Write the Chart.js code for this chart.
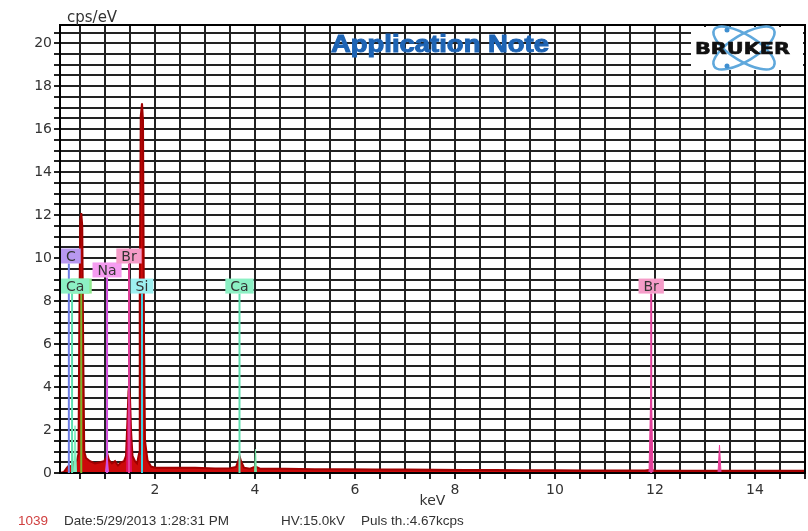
<!DOCTYPE html>
<html>
<head>
<meta charset="utf-8">
<script src="https://cdn.jsdelivr.net/npm/chart.js@4.4.0/dist/chart.umd.min.js"></script>
<style>
  html, body { margin: 0; padding: 0; background: #fff; }
  #wrap { width: 808px; height: 531px; position: relative; }
</style>
</head>
<body>
<div id="wrap"><canvas id="spectrum" width="808" height="531"></canvas></div>
<script>
// 能谱 (keV -> cps/eV)
const spectrumKeV = [0.10, 0.18, 0.24, 0.28, 0.33, 0.38, 0.44, 0.47, 0.485, 0.505, 0.525, 0.545, 0.565, 0.585, 0.62,
  0.70, 0.80, 0.90, 0.98, 1.02, 1.05, 1.08, 1.14, 1.20, 1.26, 1.32, 1.38, 1.42, 1.45, 1.47, 1.48, 1.50, 1.52, 1.55,
  1.60, 1.64, 1.68, 1.695, 1.715, 1.74, 1.76, 1.78, 1.80, 1.85, 1.92, 2.00, 2.40, 2.80, 3.20, 3.50, 3.62, 3.67,
  3.69, 3.72, 3.78, 3.90, 4.01, 4.10, 4.60, 5.20, 5.80, 6.40, 7.00, 7.60, 8.20, 8.80, 9.40, 10.0, 10.6, 11.2, 11.8,
  11.92, 12.0, 12.6, 13.2, 13.8, 14.4, 15.0];
const spectrumCps = [0.00, 0.05, 0.25, 0.35, 0.30, 0.45, 0.60, 0.9, 6.5, 11.7, 12.1, 11.5, 5.5, 1.0, 0.7,
  0.55, 0.45, 0.5, 0.55, 0.7, 0.85, 0.6, 0.45, 0.55, 0.35, 0.5, 0.55, 0.8, 2.5, 3.8, 4.0, 3.5, 2.0, 0.8,
  0.55, 0.45, 0.9, 8.0, 16.6, 17.2, 16.4, 6.5, 1.5, 0.6, 0.3, 0.25, 0.24, 0.25, 0.21, 0.22, 0.28, 0.6,
  0.8, 0.55, 0.25, 0.2, 0.3, 0.2, 0.2, 0.18, 0.17, 0.16, 0.16, 0.15, 0.14, 0.14, 0.13, 0.13, 0.12, 0.12, 0.12,
  0.15, 0.11, 0.11, 0.10, 0.10, 0.10, 0.10];

// 元素叠加峰
const caLKeV = [0.37, 0.40, 0.43];     const caLCps = [0, 2.2, 0];
const naKKeV = [1.01, 1.04, 1.07];     const naKCps = [0, 0.8, 0];
const brLKeV = [1.43, 1.46, 1.48, 1.50, 1.53]; const brLCps = [0, 2.8, 4.0, 3.2, 0];
const caKbKeV = [3.99, 4.01, 4.03];    const caKbCps = [0, 1.1, 0];
const brKaKeV = [11.88, 11.92, 11.96]; const brKaCps = [0, 4.3, 0];
const brKbKeV = [13.26, 13.29, 13.32]; const brKbCps = [0, 1.3, 0];

// 元素标记线
const markerNames = ['C', 'O', 'Ca', 'Na', 'Br', 'Si', 'Ca', 'Br'];
const markerKeV = [0.277, 0.525, 0.341, 1.041, 1.480, 1.740, 3.690, 11.924];
const markerLabelCps = [10.1, 8.7, 8.7, 9.45, 10.1, 8.7, 8.7, 8.7];

// 坐标轴
const xRange = [0.1, 15];
const yRange = [0, 20.85];
const gridStep = 0.5;
const labelStep = 2;

// 文字
const chartTitle = 'Application Note';
const yUnit = 'cps/eV';
const xUnit = 'keV';
const footerTexts = ['1039', 'Date:5/29/2013 1:28:31 PM', 'HV:15.0kV', 'Puls th.:4.67kcps'];

// 元素颜色
const elementColors = {
    C:  { line: '#6f7fe6', box: '#b898f0' },
    O:  { line: '#7cb82f', box: '#8ee88e' },
    Ca: { line: '#5fe0b0', box: '#8cf0c4' },
    Na: { line: '#d050e0', box: '#f59cf0' },
    Br: { line: '#e0409a', box: '#f59cc8' },
    Si: { line: '#40d0e0', box: '#9ef0f0' }
};

function toPoints(xs, ys) {
    return xs.map((x, i) => ({ x: x, y: ys[i] }));
}

function overlay(xs, ys, color) {
    return {
        data: toPoints(xs, ys),
        backgroundColor: color,
        borderColor: color,
        borderWidth: 1,
        fill: 'origin',
        pointRadius: 0,
        order: 1
    };
}

// 按目标宽度绘制文字
function fitText(ctx, text, x, y, width) {
    const w = ctx.measureText(text).width;
    ctx.save();
    ctx.translate(x, y);
    ctx.scale(width / w, 1);
    ctx.fillText(text, 0, 0);
    ctx.strokeText(text, 0, 0);
    ctx.restore();
}

// 装饰: 标题, 标志, 元素标签, 页脚
const decorPlugin = {
    id: 'decor',
    afterDatasetsDraw(chart) {
        const { ctx, chartArea, scales } = chart;
        const xs = scales.x, ys = scales.y;
        ctx.save();

        // 外框
        ctx.strokeStyle = '#000';
        ctx.lineWidth = 2;
        ctx.strokeRect(chartArea.left, chartArea.top, chartArea.right - chartArea.left, chartArea.bottom - chartArea.top);

        // 元素标记
        ctx.font = '14px "DejaVu Sans"';
        ctx.textAlign = 'center';
        ctx.textBaseline = 'middle';
        markerNames.forEach((name, i) => {
            const c = elementColors[name];
            const px = xs.getPixelForValue(markerKeV[i]);
            const py = ys.getPixelForValue(markerLabelCps[i]);
            const w = ctx.measureText(name).width + 10;
            const h = 15;
            const left = Math.max(chartArea.left + 1, px - w / 2);
            ctx.strokeStyle = c.line;
            ctx.lineWidth = 2;
            ctx.beginPath();
            ctx.moveTo(px, ys.getPixelForValue(0));
            ctx.lineTo(px, py + h / 2);
            ctx.stroke();
            ctx.fillStyle = c.box;
            ctx.fillRect(left, py - h / 2, w, h);
            ctx.fillStyle = '#333';
            ctx.fillText(name, left + w / 2, py + 1);
        });

        // 标题
        ctx.textAlign = 'left';
        ctx.textBaseline = 'alphabetic';
        ctx.font = 'bold 23px "Liberation Sans"';
        ctx.fillStyle = '#1e64b4';
        ctx.strokeStyle = '#1e64b4';
        ctx.lineWidth = 1;
        fitText(ctx, chartTitle, 331, 52, 218);

        // BRUKER 标志
        ctx.fillStyle = '#fff';
        ctx.fillRect(691, 27, 112, 43);
        ctx.strokeStyle = '#5fa8dc';
        ctx.lineWidth = 2.5;
        ctx.beginPath();
        ctx.ellipse(744, 48, 35, 13, 0.55, 0, Math.PI * 2);
        ctx.stroke();
        ctx.beginPath();
        ctx.ellipse(744, 48, 35, 13, -0.55, 0, Math.PI * 2);
        ctx.stroke();
        ctx.fillStyle = '#3f8fd0';
        [[727, 30], [727, 66]].forEach(p => {
            ctx.beginPath();
            ctx.arc(p[0], p[1], 2.5, 0, Math.PI * 2);
            ctx.fill();
        });
        ctx.font = 'bold 15px "DejaVu Sans"';
        ctx.fillStyle = '#111';
        ctx.strokeStyle = '#111';
        ctx.lineWidth = 0.6;
        fitText(ctx, 'BRUKER', 695, 54, 95);

        // 单位
        ctx.fillStyle = '#333';
        ctx.font = '15px "DejaVu Sans"';
        ctx.fillText(yUnit, 67, 22);

        // 页脚
        ctx.font = '13.5px "Liberation Sans"';
        ctx.fillStyle = '#d04040';
        ctx.fillText(footerTexts[0], 18, 525);
        ctx.fillStyle = '#333';
        ctx.fillText(footerTexts[1], 64, 525);
        ctx.fillText(footerTexts[2], 281, 525);
        ctx.fillText(footerTexts[3], 361, 525);
        ctx.restore();
    }
};

Chart.defaults.font.family = '"DejaVu Sans"';
Chart.defaults.color = '#333';

window.onload = function() {
    new Chart(document.getElementById('spectrum'), {
        type: 'line',
        data: {
            datasets: [{
                data: toPoints(spectrumKeV, spectrumCps),
                backgroundColor: '#cc0a0a',
                borderColor: '#a00000',
                borderWidth: 2,
                fill: 'origin',
                pointRadius: 0,
                order: 2
            },
            overlay(caLKeV, caLCps, '#7ff0c0'),
            overlay(naKKeV, naKCps, '#e060e0'),
            overlay(brLKeV, brLCps, '#e01060'),
            overlay(caKbKeV, caKbCps, '#70e0a0'),
            overlay(brKaKeV, brKaCps, '#e8409a'),
            overlay(brKbKeV, brKbCps, '#e8409a')]
        },
        options: {
            responsive: false,
            animation: false,
            layout: { padding: { top: 25, right: 1, left: 0, bottom: 0 } },
            plugins: {
                legend: { display: false },
                tooltip: { enabled: false }
            },
            scales: {
                x: {
                    type: 'linear',
                    min: xRange[0],
                    max: xRange[1],
                    afterFit: s => { s.height = 58; },
                    ticks: {
                        stepSize: gridStep,
                        includeBounds: false,
                        autoSkip: false,
                        maxRotation: 0,
                        padding: 3,
                        font: { size: 14 },
                        callback: v => (Math.abs(v % labelStep) < 1e-6 ? v : '')
                    },
                    grid: { color: '#222', lineWidth: 2, tickLength: 6 },
                    border: { color: '#000', width: 2 },
                    title: { display: true, text: xUnit, font: { size: 14 }, padding: { top: 0, bottom: 21 } }
                },
                y: {
                    min: yRange[0],
                    max: yRange[1],
                    afterFit: s => { s.width = 60; },
                    ticks: {
                        stepSize: gridStep,
                        includeBounds: false,
                        autoSkip: false,
                        padding: 2,
                        font: { size: 14 },
                        callback: v => (Math.abs(v % labelStep) < 1e-6 ? v : '')
                    },
                    grid: { color: '#222', lineWidth: 2, tickLength: 6 },
                    border: { color: '#000', width: 2 }
                }
            }
        },
        plugins: [decorPlugin]
    });
};
</script>
</body>
</html>
